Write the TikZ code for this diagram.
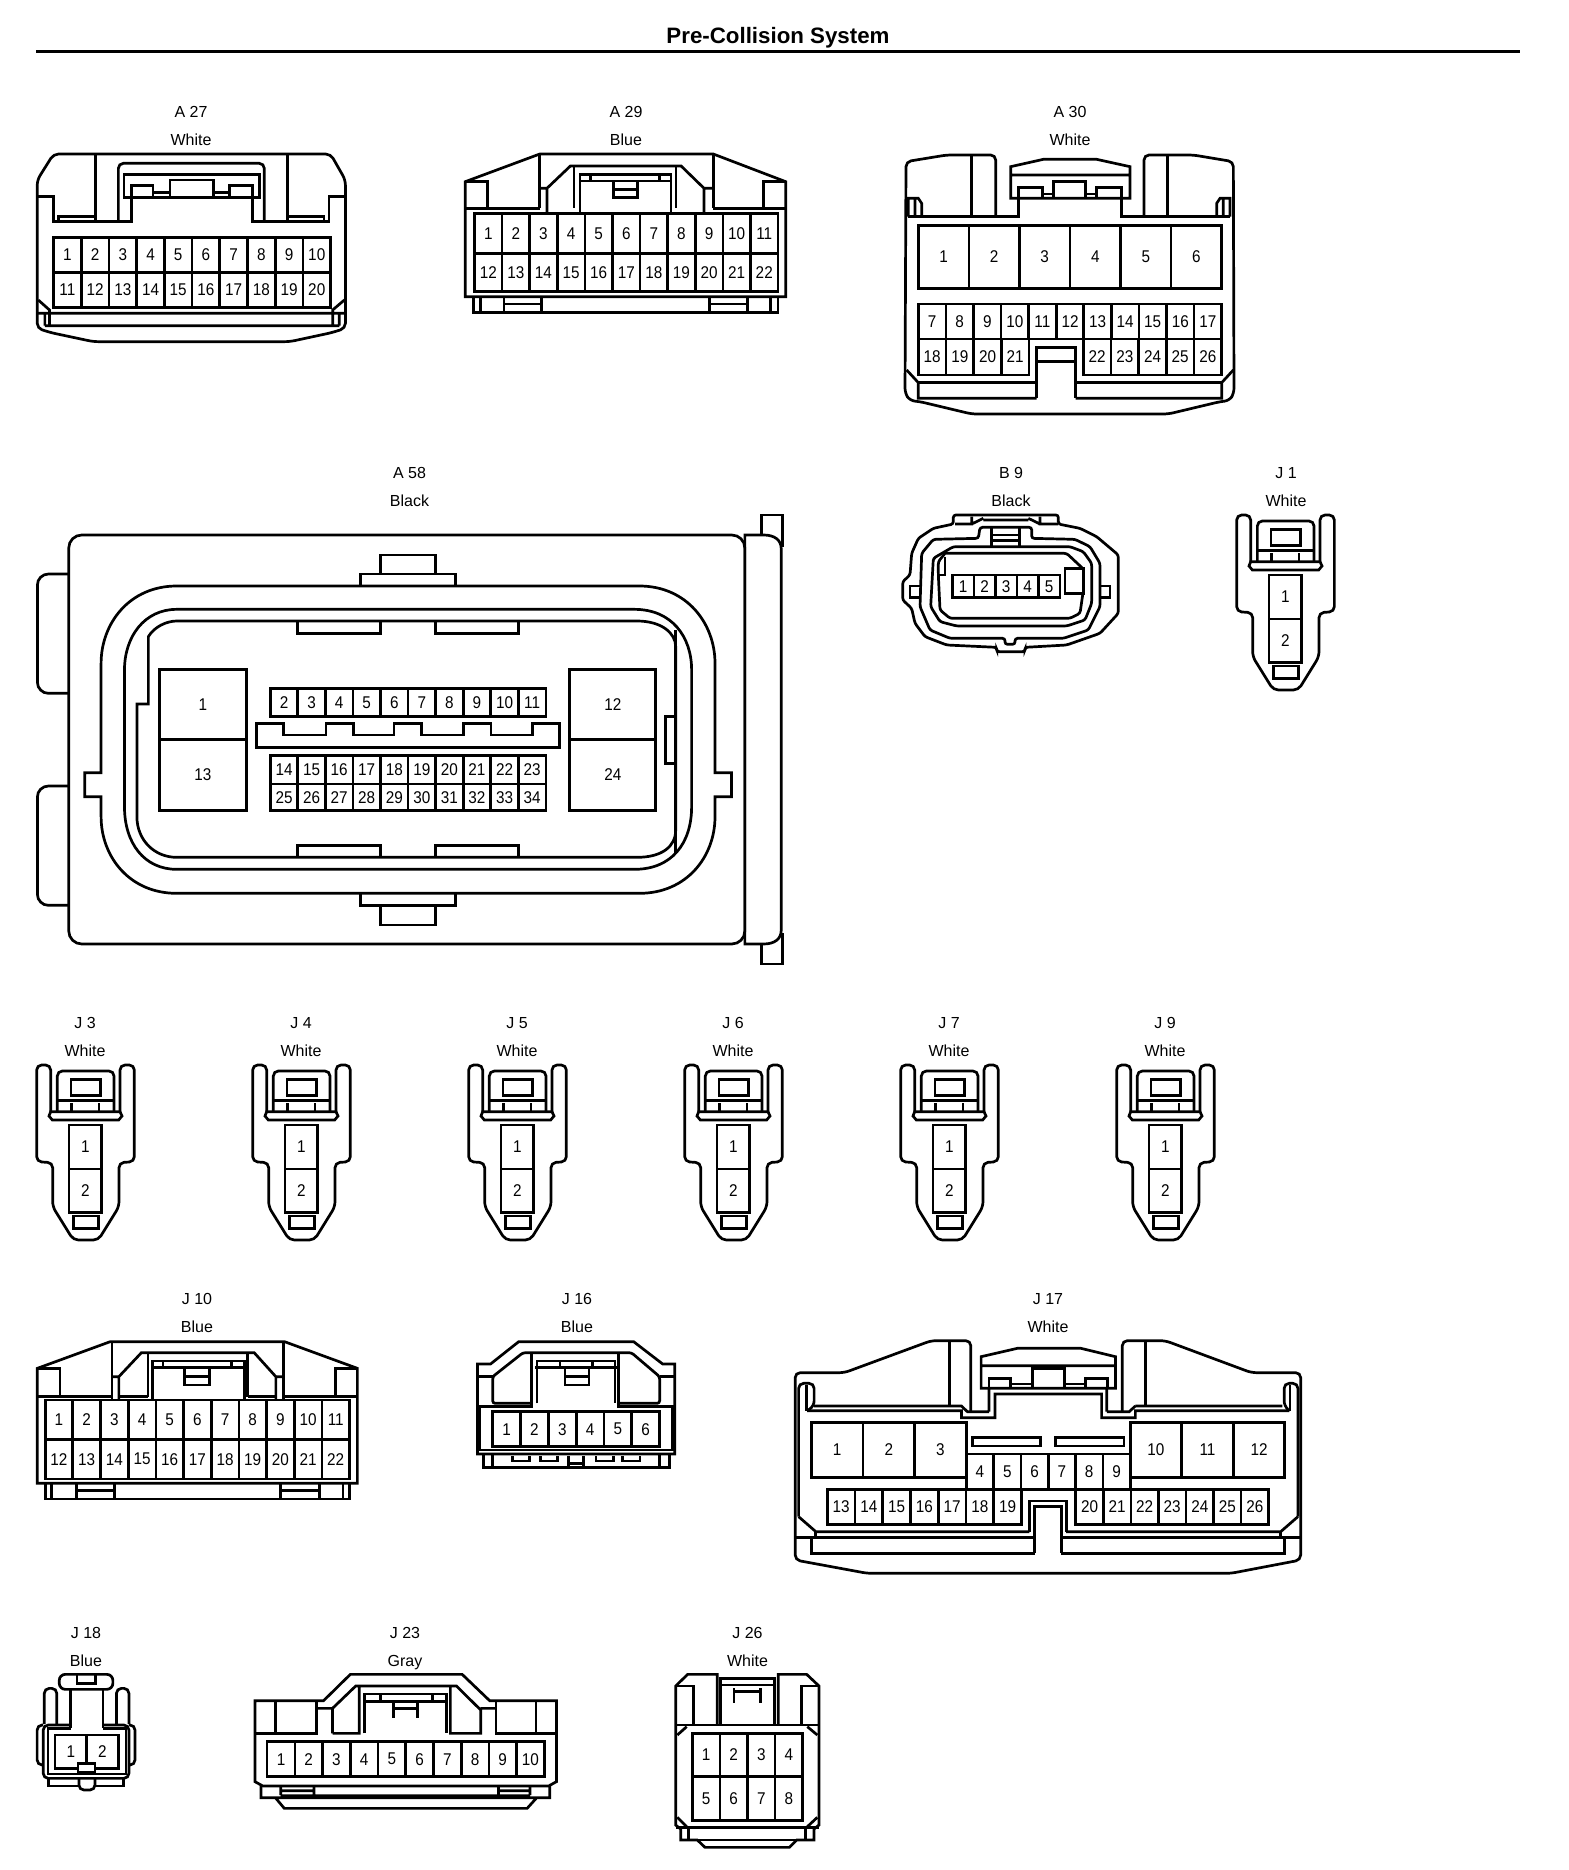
\documentclass[tikz,border=0pt]{standalone}
\usepackage{fontspec}
\setmainfont{Liberation Sans}
\newfontfamily\numf[FakeStretch=0.9]{Liberation Sans}
\newcounter{pin}
\tikzset{
 cl/.style={draw=black,line width=2.7pt,line join=miter,fill=none},
 rnd/.style={cl,rounded corners=5pt},
 rns/.style={cl,rounded corners=2.5pt},
 pinlab/.style={inner sep=0pt,font=\fontsize{17}{17}\selectfont\numf,text=black},
 lab/.style={inner sep=0pt,text height=11.5pt,text depth=0pt,font=\fontsize{16}{16}\selectfont,text=black},
}
\newcommand\Grid[6]{%
 \foreach \k in {1,...,#3}{%
  \pgfmathsetmacro\xa{#1+(#2-#1)*(\k-1)/#3}
  \pgfmathsetmacro\xb{#1+(#2-#1)*\k/#3}
  \pgfmathsetmacro\xc{(\xa+\xb)/2}
  \pgfmathsetmacro\yc{(#4+#5)/2}
  \pgfmathtruncatemacro\lab{#6+\k-1}
  \stepcounter{pin}
  \draw[cl] (\xa,#4) rectangle (\xb,#5);
  \node[pinlab] (pin\arabic{pin}) at (\xc,\yc) {\lab};
 }}
\newcommand\Tag[5]{%
 \node[lab] (#1a) at (#2,#3) {#4};
 \pgfmathsetmacro\yb{#3+27.5}
 \node[lab] (#1b) at (#2,\yb) {#5};}
\newcommand\JConn[2]{%
 \begin{scope}[shift={(#1,#2)},x=.33333pt,y=-.33333pt]
  \draw[rnd] (92,305)--(92,165)--(50,165)--(50,455)--(98,458)--(98,590)--(160,690)--(235,690)--(297,590)--(297,458)--(343,455)--(343,165)--(300,165)--(300,305);
  \draw[rnd] (112,305)--(112,183)--(282,183)--(282,305);
  \draw[cl] (153,208) rectangle (242,257);
  \draw[cl] (112,272)--(282,272) (155,280)--(155,305) (237,280)--(237,305);
  \draw[cl] (92,305)--(300,305)--(306,318)--(296,330)--(97,330)--(87,318)--cycle;
  \Grid{147}{245}{1}{345}{477}{1}
  \Grid{147}{245}{1}{477}{607}{2}
  \draw[cl] (160,618) rectangle (235,655);
 \end{scope}}
\begin{document}
\begin{tikzpicture}[x=1pt,y=-1pt]
\useasboundingbox (0,0) rectangle (1568,1870);
\fill[white] (0,0) rectangle (1568,1870);
\node[inner sep=0pt,font=\fontsize{22.3}{22.3}\selectfont\bfseries] (title) at (778,38) {Pre-Collision System};
\coordinate (ruleL) at (36,51.5);\coordinate (ruleR) at (1520,51.5);
\draw[black,line width=3.6pt] (ruleL)--(ruleR);
\Tag{ta}{191}{112}{A 27}{White}
\Tag{tb}{626}{112}{A 29}{Blue}
\Tag{tc}{1070}{112}{A 30}{White}
\Tag{td}{409.5}{473}{A 58}{Black}
\Tag{te}{1011}{473}{B 9}{Black}
\Tag{tf}{1286}{473}{J 1}{White}
\Tag{tg}{85}{1023}{J 3}{White}
\Tag{th}{301}{1023}{J 4}{White}
\Tag{ti}{517}{1023}{J 5}{White}
\Tag{tj}{733}{1023}{J 6}{White}
\Tag{tk}{949}{1023}{J 7}{White}
\Tag{tl}{1165}{1023}{J 9}{White}
\Tag{tm}{197}{1299}{J 10}{Blue}
\Tag{tn}{577}{1299}{J 16}{Blue}
\Tag{to}{1048}{1299}{J 17}{White}
\Tag{tp}{86}{1633}{J 18}{Blue}
\Tag{tq}{405}{1633}{J 23}{Gray}
\Tag{tr}{747.5}{1633}{J 26}{White}
% ---------- A27 / A29
\begin{scope}[shift={(0,80)},x=.5102pt,y=-.33333pt]
 \draw[rnd] (105,222)--(648,222)--(677,300)--(677,745)--(650,758)--(568,785)--(183,785)--(100,758)--(73,745)--(73,300)--cycle;
 \draw[cl] (73,350)--(105,350)--(105,425)--(258,425)--(258,352) (677,350)--(645,350)--(645,425)--(495,425)--(495,352);
 \draw[cl] (187,222)--(187,425) (563,222)--(563,425);
 \draw[rnd] (232,425)--(232,250)--(518,250)--(518,425);
 \draw[cl] (243,283) rectangle (508,352);
 \draw[cl] (258,352)--(258,316)--(300,316)--(300,352) (450,352)--(450,316)--(495,316)--(495,352) (333,352)--(333,300)--(418,300)--(418,352) (300,337)--(333,337) (418,337)--(450,337);
 \draw[cl] (115,425)--(115,410)--(187,410) (563,410)--(635,410)--(635,425);
 \Grid{105}{648}{10}{472}{577}{1}
 \Grid{105}{648}{10}{577}{682}{11}
 \draw[cl] (73,700)--(677,700) (75,660)--(97,690)--(97,737) (675,660)--(652,690)--(652,737) (88,737)--(665,737) (88,700)--(88,737) (665,700)--(665,737);
 % A29
 \draw[cl] (912,305)--(1058,222)--(1398,222)--(1540,305)--(1540,650)--(912,650)--cycle;
 \draw[cl] (1058,222)--(1058,385) (1398,222)--(1398,385) (912,305)--(955,305)--(955,385) (1540,305)--(1497,305)--(1497,385) (912,385)--(1058,385) (1398,385)--(1540,385);
 \draw[cl] (1072,400)--(1072,325)--(1118,258)--(1335,258)--(1380,325)--(1380,400) (1058,325)--(1072,325) (1380,325)--(1398,325);
 \draw[cl] (1125,258)--(1125,385) (1325,258)--(1325,385) (1137,398)--(1137,283)--(1315,283)--(1315,398) (1137,303)--(1315,303) (1158,283)--(1158,303) (1292,283)--(1292,303) (1203,303)--(1203,352)--(1250,352)--(1250,303) (1203,328)--(1250,328);
 \Grid{930}{1525}{11}{400}{520}{1}
 \Grid{930}{1525}{11}{520}{635}{12}
 \draw[cl] (928,650)--(928,697)--(1525,697)--(1525,650) (942,650)--(942,697) (1510,650)--(1510,697) (988,650)--(988,697) (1062,650)--(1062,697) (988,672)--(1062,672) (1390,650)--(1390,697) (1465,650)--(1465,697) (1390,672)--(1465,672);
\end{scope}
% ---------- A30
\begin{scope}[shift={(880,80)},x=.33333pt,y=-.33333pt]
 \draw[rnd] (347,410)--(347,225)--(200,225)--(78,245)--(75,940)--(90,962)--(120,965)--(275,1002)--(865,1002)--(1020,965)--(1048,962)--(1062,940)--(1060,245)--(940,225)--(792,225)--(792,410);
 \draw[cl] (275,225)--(275,410) (862,225)--(862,410);
 \draw[cl] (85,410)--(415,410)--(415,355) (725,355)--(725,410)--(1050,410);
 \draw[cl] (85,410)--(85,355)--(115,355)--(125,370)--(125,410) (105,355)--(105,410) (1050,410)--(1050,355)--(1020,355)--(1010,370)--(1010,410) (1030,355)--(1030,410);
 \draw[cl] (392,355)--(392,260)--(490,238)--(650,238)--(750,260)--(750,355)--cycle (392,285)--(750,285);
 \draw[cl] (415,355)--(415,322)--(487,322)--(487,352) (520,352)--(520,305)--(617,305)--(617,352) (650,352)--(650,322)--(725,322)--(725,355) (487,342)--(520,342) (617,342)--(650,342);
 \Grid{115}{1025}{6}{437}{625}{1}
 \Grid{115}{1025}{11}{672}{777}{7}
 \Grid{115}{447}{4}{777}{885}{18}
 \Grid{610}{1025}{5}{777}{885}{22}
 \draw[cl] (470,955)--(470,802)--(587,802)--(587,955) (470,845)--(587,845);
 \draw[cl] (80,870)--(115,908)--(115,955)--(470,955) (587,955)--(1025,955)--(1025,908)--(1060,870);
 \draw[cl] (115,908)--(470,908) (587,908)--(1025,908);
\end{scope}
% ---------- A58
\begin{scope}[shift={(20,500)},x=.4975pt,y=-.33333pt]
 \draw[cl,rounded corners=13pt] (98,105) rectangle (1457,1332);
 \draw[cl,rounded corners=11pt] (98,222)--(35,222)--(35,580)--(98,580) (98,858)--(35,858)--(35,1216)--(98,1216);
 \draw[cl] (1457,105)--(1495,105) .. controls (1518,105) and (1530,122) .. (1530,145)--(1530,1292) .. controls (1530,1315) and (1518,1332) .. (1495,1332)--(1457,1332)--cycle;
 \draw[cl] (1490,105)--(1490,45)--(1533,45)--(1533,140) (1490,1332)--(1490,1392)--(1533,1392)--(1533,1300);
 \draw[cl] (725,222)--(725,165)--(835,165)--(835,222) (685,257)--(685,222)--(875,222)--(875,257) (685,1182)--(685,1216)--(875,1216)--(875,1182) (725,1216)--(725,1275)--(835,1275)--(835,1216);
 \draw[cl] (315,258)--(1245,258) .. controls (1340,258) and (1397,370) .. (1397,490)--(1397,818)--(1430,818)--(1430,890)--(1397,890)--(1397,950) .. controls (1397,1070) and (1340,1180) .. (1245,1180)--(315,1180) .. controls (220,1180) and (163,1070) .. (163,950)--(163,890)--(130,890)--(130,818)--(163,818)--(163,490) .. controls (163,370) and (220,258) .. (315,258)--cycle;
 \draw[cl] (315,328)--(1235,328) .. controls (1310,328) and (1350,410) .. (1350,510)--(1350,920) .. controls (1350,1030) and (1310,1108) .. (1235,1108)--(315,1108) .. controls (250,1108) and (210,1030) .. (210,920)--(210,510) .. controls (210,410) and (250,328) .. (315,328)--cycle;
 \draw[cl] (258,612)--(258,410) .. controls (270,380) and (295,363) .. (315,363)--(1240,363) .. controls (1290,363) and (1318,400) .. (1318,440)--(1318,990) .. controls (1318,1040) and (1290,1072) .. (1240,1072)--(315,1072) .. controls (270,1072) and (235,1020) .. (235,950)--(235,612)--cycle;
 \draw[cl] (1318,390)--(1318,1060);
 \draw[cl] (558,365)--(558,400)--(725,400)--(725,365) (835,365)--(835,400)--(1002,400)--(1002,365) (558,1072)--(558,1037)--(725,1037)--(725,1072) (835,1072)--(835,1037)--(1002,1037)--(1002,1072);
 \Grid{280}{455}{1}{508}{718}{1}
 \Grid{280}{455}{1}{718}{932}{13}
 \Grid{1105}{1278}{1}{508}{718}{12}
 \Grid{1105}{1278}{1}{718}{932}{24}
 \Grid{503}{1057}{10}{565}{650}{2}
 \Grid{503}{1057}{10}{767}{852}{14}
 \Grid{503}{1057}{10}{852}{932}{25}
 \draw[cl] (475,670)--(530,670)--(530,705)--(615,705)--(615,670)--(670,670)--(670,705)--(752,705)--(752,670)--(807,670)--(807,705)--(892,705)--(892,670)--(947,670)--(947,705)--(1030,705)--(1030,670)--(1085,670)--(1085,743)--(475,743)--cycle;
 \draw[cl] (1298,650) rectangle (1318,790);
\end{scope}
% ---------- B9
\begin{scope}[shift={(890,500)},x=.33333pt,y=-.33333pt]
 \draw[rns] (190,72)--(190,45)--(505,45)--(505,72)--(570,85)--(620,110)--(685,165)--(685,340)--(630,400)--(530,435)--(405,442)--(405,455)--(320,455)--(320,442)--(170,435)--(105,410)--(75,370)--(65,325)--(38,300)--(38,245)--(60,225)--(65,160)--(85,115)--(130,85)--cycle;
 \draw[cl] (195,72)--(245,72)--(245,50) (450,50)--(450,72)--(505,72) (280,60)--(415,60) (245,72)--(280,55) (415,55)--(450,72);
 \draw[rns] (265,115)--(130,118)--(95,160)--(90,320)--(120,390)--(180,415)--(345,415)--(345,433)--(375,433)--(375,415)--(520,415)--(595,390)--(630,320)--(630,190)--(600,140)--(555,118)--(425,115)--(425,82)--(270,82)--cycle;
 \draw[rns] (305,140)--(190,140)--(130,175)--(122,320)--(150,365)--(200,378)--(530,378)--(585,360)--(605,310)--(605,190)--(580,155)--(540,140)--(305,140);
 \draw[cl] (305,82)--(305,140) (388,82)--(388,140) (305,105)--(388,105) (305,122)--(388,122);
 \draw[rns] (165,160)--(530,160)--(578,205) (578,285)--(570,340)--(540,355)--(180,355)--(150,330)--(145,225)--(145,185)--(165,160);
 \draw[cl] (165,170)--(165,225)--(145,225);
 \Grid{187}{510}{5}{225}{293}{1}
 \draw[cl] (525,205) rectangle (580,280);
 \draw[cl] (90,258)--(60,258)--(60,292)--(90,292) (632,258)--(660,258)--(660,292)--(632,292);
\end{scope}
% ---------- J connectors
\JConn{1220}{460}
\JConn{20}{1010}
\JConn{236}{1010}
\JConn{452}{1010}
\JConn{668}{1010}
\JConn{884}{1010}
\JConn{1100}{1010}
% ---------- J10 / J16
\begin{scope}[shift={(20,1300)},x=.43365pt,y=-.33333pt]
 \draw[cl] (40,205)--(208,125)--(610,125)--(778,205)--(778,550)--(40,550)--cycle;
 \draw[cl] (40,205)--(92,205)--(92,290) (778,205)--(727,205)--(727,290) (40,290)--(212,290) (607,290)--(778,290) (212,125)--(212,300) (607,125)--(607,300);
 \draw[cl] (228,300)--(228,230)--(280,158)--(540,158)--(590,230)--(590,300) (212,230)--(228,230) (590,230)--(607,230);
 \draw[cl] (295,158)--(295,290) (525,158)--(525,290) (228,290)--(295,290) (525,290)--(590,290) (305,298)--(305,183)--(517,183)--(517,298) (305,203)--(517,203) (330,183)--(330,203) (487,183)--(487,203) (380,203)--(380,255)--(437,255)--(437,203) (380,230)--(437,230);
 \Grid{58}{760}{11}{300}{418}{1}
 \Grid{58}{760}{11}{418}{537}{12}
 \draw[cl] (58,550)--(58,597)--(760,597)--(760,550) (72,550)--(72,597) (745,550)--(745,597) (130,550)--(130,597) (218,550)--(218,597) (130,572)--(218,572) (600,550)--(600,597) (690,550)--(690,597) (600,572)--(690,572);
 % J16
 \draw[cl] (1055,462)--(1055,192)--(1085,192)--(1150,125)--(1415,125)--(1482,192)--(1510,192)--(1510,462)--cycle;
 \draw[rns] (1180,310)--(1090,310)--(1090,230)--(1160,158)--(1410,158)--(1475,230)--(1475,310)--(1380,310);
 \draw[cl] (1055,230)--(1090,230) (1475,230)--(1510,230);
 \draw[cl] (1180,158)--(1180,320)--(1060,320)--(1060,450)--(1505,450)--(1505,320)--(1380,320)--(1380,158);
 \draw[cl] (1192,310)--(1192,183)--(1372,183)--(1372,310) (1188,203)--(1380,203) (1245,183)--(1245,203) (1320,183)--(1320,203) (1257,203)--(1257,255)--(1312,255)--(1312,203) (1257,230)--(1312,230);
 \Grid{1090}{1475}{6}{335}{440}{1}
 \draw[cl] (1068,462)--(1068,503)--(1498,503)--(1498,462) (1090,465)--(1090,503) (1475,465)--(1475,503) (1135,468)--(1135,483)--(1175,483)--(1175,468) (1200,468)--(1200,483)--(1240,483)--(1240,468) (1265,468)--(1265,503) (1300,468)--(1300,503) (1265,490)--(1300,490) (1328,468)--(1328,483)--(1368,483)--(1368,468) (1390,468)--(1390,483)--(1430,483)--(1430,468);
\end{scope}
% ---------- J17
\begin{scope}[shift={(790,1300)},x=.34435pt,y=-.33333pt]
 \draw[rnd] (525,335)--(525,122)--(410,122)--(158,218)--(15,218)--(15,780)--(225,820)--(1280,820)--(1483,780)--(1483,218)--(1340,218)--(1090,122)--(965,122)--(965,335);
 \draw[cl] (463,122)--(463,318) (1033,122)--(1033,318);
 \draw[cl] (70,318)--(498,318)--(515,335)--(578,335) (50,332)--(498,332)--(498,353)--(595,353)--(595,282)--(905,282)--(905,353)--(1003,353)--(1003,332)--(1450,332) (1003,318)--(1430,318) (920,335)--(985,335)--(1003,318) (578,335)--(578,265) (920,335)--(920,265);
 \draw[rnd] (50,332)--(70,318)--(70,250)--(25,250)--(25,650);
 \draw[rnd] (1450,332)--(1435,318)--(1435,250)--(1475,250)--(1475,650);
 \draw[cl] (48,332)--(48,255) (1452,332)--(1452,255);
 \draw[cl] (555,265)--(555,170)--(660,145)--(845,145)--(945,170)--(945,265)--cycle (555,197)--(945,197);
 \draw[cl] (578,265)--(578,235)--(640,235)--(640,262) (705,262)--(705,205)--(797,205)--(797,262) (858,262)--(858,235)--(922,235)--(922,265) (640,252)--(705,252) (797,252)--(858,252);
 \Grid{62}{512}{3}{368}{532}{1}
 \Grid{988}{1437}{3}{368}{532}{10}
 \draw[cl] (530,412) rectangle (728,438) (770,412) rectangle (970,438);
 \Grid{512}{988}{6}{462}{568}{4}
 \Grid{108}{672}{7}{568}{673}{13}
 \Grid{830}{1390}{7}{568}{673}{20}
 \draw[cl] (695,695)--(695,603)--(802,603)--(802,695) (710,760)--(710,620)--(788,620)--(788,760);
 \draw[cl] (25,650)--(75,695)--(695,695) (802,695)--(1425,695)--(1475,650);
 \draw[cl] (15,712)--(710,712) (788,712)--(1483,712);
 \draw[cl] (62,712)--(62,760)--(710,760) (788,760)--(1437,760)--(1437,712) (75,695)--(75,712) (1425,695)--(1425,712);
\end{scope}
% ---------- J18 / J23
\begin{scope}[shift={(20,1630)},x=.35714pt,y=-.33333pt]
 \draw[cl,rounded corners=6pt] (110,133) rectangle (260,178);
 \draw[cl] (160,133)--(160,165) (212,133)--(212,165) (160,160)--(212,160);
 \draw[cl] (142,295)--(142,178) (232,178)--(232,295);
 \draw[rnd] (68,282)--(68,175)--(103,175)--(103,282);
 \draw[rnd] (270,282)--(270,175)--(305,175)--(305,282);
 \draw[rnd] (65,285)--(48,285)--(48,405)--(65,405);
 \draw[rnd] (305,285)--(322,285)--(322,405)--(305,405);
 \draw[rnd] (142,285)--(65,285)--(65,445)--(305,445)--(305,285)--(232,285);
 \draw[cl] (142,295)--(78,295)--(78,432)--(297,432)--(297,295)--(232,295);
 \Grid{98}{275}{2}{315}{415}{1}
 \draw[fill=white,draw=black,line width=2.7pt] (162,400) rectangle (210,428);
 \draw[cl] (80,445)--(80,468)--(165,468) (210,468)--(290,468)--(290,445);
 \draw[rnd] (165,445)--(165,480)--(210,480)--(210,445);
 % J23
 \draw[cl] (658,212)--(850,212)--(925,133)--(1238,133)--(1315,212)--(1502,212)--(1502,455)--(1480,468)--(680,468)--(658,455)--cycle;
 \draw[cl] (715,212)--(715,310) (1445,212)--(1445,310) (658,310)--(830,310)--(830,212) (1333,212)--(1333,310)--(1502,310);
 \draw[cl] (830,235)--(875,235) (1290,235)--(1333,235) (875,310)--(875,235)--(940,168)--(1222,168)--(1290,240)--(1290,310)--(1205,310)--(1205,168) (875,310)--(950,310)--(950,168);
 \draw[cl] (965,310)--(965,192)--(1195,192)--(1195,310) (965,215)--(1195,215) (1010,192)--(1010,215) (1155,192)--(1155,215) (1045,215)--(1045,265) (1113,215)--(1113,265) (1045,235)--(1113,235);
 \Grid{692}{1468}{10}{335}{440}{1}
 \draw[cl] (675,468)--(675,503)--(1483,503)--(1483,468) (730,468)--(730,495) (823,468)--(823,495) (730,482)--(823,482) (1340,468)--(1340,495) (1428,468)--(1428,495) (1340,482)--(1428,482) (730,497)--(1428,497) (715,503)--(740,535)--(1420,535)--(1447,503);
\end{scope}
% ---------- J26
\begin{scope}[shift={(660,1630)},x=.33333pt,y=-.33333pt]
 \draw[cl] (172,285)--(172,133)--(83,133)--(47,168)--(47,585)--(62,597)--(62,630)--(112,630)--(135,652)--(388,652)--(410,630)--(462,630)--(462,597)--(477,585)--(477,168)--(440,133)--(355,133)--(355,285);
 \draw[cl] (47,168)--(100,168)--(100,285) (477,168)--(425,168)--(425,285) (47,285)--(477,285);
 \draw[cl] (182,285)--(182,145)--(343,145)--(343,285) (182,165)--(343,165) (222,175)--(222,218) (302,175)--(302,218) (222,185)--(302,185);
 \draw[cl] (52,315)--(80,290) (472,315)--(442,290) (52,562)--(80,590) (472,562)--(442,590);
 \Grid{97}{428}{4}{310}{440}{1}
 \Grid{97}{428}{4}{440}{572}{5}
 \draw[cl] (47,592)--(477,592) (85,597)--(85,630) (437,597)--(437,630) (62,630)--(462,630);
\end{scope}
\end{tikzpicture}
\end{document}
